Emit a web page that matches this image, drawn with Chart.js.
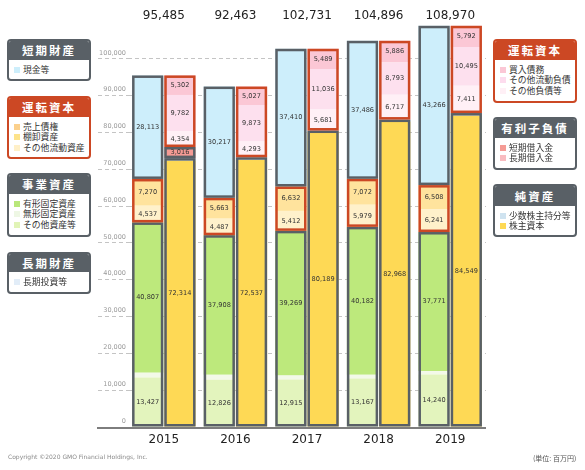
<!DOCTYPE html>
<html lang="ja">
<head>
<meta charset="utf-8">
<script src="https://cdn.jsdelivr.net/npm/chart.js@4.4.1/dist/chart.umd.min.js"></script>
<style>
  html, body { margin: 0; padding: 0; background: #fff; }
  #wrap { position: relative; width: 585px; height: 470px; overflow: hidden; }
  #wrap canvas { position: absolute; left: 0; top: 0; }
  .box { position: absolute; width: 84px; border: 2px solid; border-radius: 4px; box-sizing: border-box; overflow: hidden; background: #fff; }
  .box .head { color: #fff; font: bold 11.5px "Noto Sans CJK JP", sans-serif; letter-spacing: 2px; text-align: center; }
  .box .item { font: 8.8px "Noto Sans CJK JP", sans-serif; color: #333; height: 10.3px; line-height: 10.3px; padding-left: 14px; position: relative; white-space: nowrap; }
  .box .item i { position: absolute; left: 5px; top: 2px; width: 6px; height: 6px; }
  .note { position: absolute; color: #8a8a8a; white-space: nowrap; }
</style>
</head>
<body>
<div id="wrap">
  <canvas id="bsChart"></canvas>
  <div class="note" style="left:8px; top:453px; font:6px 'DejaVu Sans', sans-serif;">Copyright ©2020 GMO Financial Holdings, Inc.</div>
  <div class="note" style="left:533px; top:453px; font:7px 'Noto Sans CJK JP', sans-serif; color:#555;">(単位: 百万円)</div>
</div>
<script>
document.addEventListener('DOMContentLoaded', function () {
    const years = ['2015', '2016', '2017', '2018', '2019'];
    const totals = [95485, 92463, 102731, 104896, 108970];
    const yTicks = [0, 10000, 20000, 30000, 40000, 50000, 60000, 70000, 80000, 90000, 100000];

    // 資産（左の棒）
    const otherAssets = [13427, 12826, 12915, 13167, 14240];
    const intangible = [1331, 1362, 1093, 1010, 944];
    const tangible = [40807, 37908, 39269, 40182, 37771];
    const otherCurrent = [4537, 4487, 5412, 5979, 6241];
    const receivables = [7270, 5663, 6632, 7072, 6508];
    const cash = [28113, 30217, 37410, 37486, 43266];

    // 負債・純資産（右の棒）
    const equity = [72314, 72537, 80189, 82968, 84549];
    const minority = [717, 733, 336, 532, 723];
    const shortLoans = [3016, 0, 0, 0, 0];
    const otherLiab = [4354, 4293, 5681, 6717, 7411];
    const otherCurLiab = [9782, 9873, 11036, 8793, 10495];
    const payables = [5302, 5027, 5489, 5886, 5792];

    const GRAY = '#596066';
    const RED = '#cc4824';

    // legend boxes (html)
    const legendBoxes = [
        { x: 7, y: 39, h: 42, hh: 21, c: GRAY, title: '短期財産', items: [['#cdeefb', '現金等']] },
        { x: 7, y: 96, h: 63, hh: 21, c: RED, title: '運転資本', items: [['#fbd08c', '売上債権'], ['#fde38b', '棚卸資産'], ['#fff0c8', 'その他流動資産']] },
        { x: 7, y: 173, h: 64, hh: 21, c: GRAY, title: '事業資産', items: [['#b9e77a', '有形固定資産'], ['#eef7e4', '無形固定資産'], ['#e1f4b7', 'その他資産等']] },
        { x: 7, y: 252, h: 42, hh: 20, c: GRAY, title: '長期財産', items: [['#e2edf8', '長期投資等']] },
        { x: 493, y: 39, h: 64, hh: 21, c: RED, title: '運転資本', items: [['#fbc7d5', '買入債務'], ['#fddcee', 'その他流動負債'], ['#fff0f6', 'その他負債等']] },
        { x: 493, y: 117, h: 53, hh: 21, c: GRAY, title: '有利子負債', items: [['#f59b95', '短期借入金'], ['#f9bcc0', '長期借入金']] },
        { x: 493, y: 184, h: 53, hh: 22, c: GRAY, title: '純資産', items: [['#cfe3f0', '少数株主持分等'], ['#fed955', '株主資本']] }
    ];
    const wrap = document.getElementById('wrap');
    legendBoxes.forEach(function (b) {
        const box = document.createElement('div');
        box.className = 'box';
        box.style.cssText = 'left:' + b.x + 'px;top:' + b.y + 'px;height:' + b.h + 'px;border-color:' + b.c + ';';
        let html = '<div class="head" style="background:' + b.c + ';height:' + (b.hh - 2) + 'px;line-height:' + (b.hh - 2) + 'px;">' + b.title + '</div>';
        html += '<div style="padding-top:5px;">';
        b.items.forEach(function (it) {
            html += '<div class="item"><i style="background:' + it[0] + '"></i>' + it[1] + '</div>';
        });
        html += '</div>';
        box.innerHTML = html;
        wrap.appendChild(box);
    });

    function fmt(v) {
        return v.toLocaleString('en-US');
    }

    // draws one border round each group of stacked segments
    const groupBorders = {
        id: 'groupBorders',
        afterDatasetsDraw(chart) {
            const ctx = chart.ctx;
            const groups = {};
            chart.data.datasets.forEach(function (ds, di) {
                if (!groups[ds.group]) groups[ds.group] = { color: ds.groupColor, metas: [] };
                groups[ds.group].metas.push(chart.getDatasetMeta(di));
            });
            Object.values(groups).forEach(function (g) {
                for (let i = 0; i < years.length; i++) {
                    let top = Infinity, bottom = -Infinity, x = 0, w = 0;
                    g.metas.forEach(function (m) {
                        const p = m.data[i].getProps(['x', 'y', 'base', 'width'], true);
                        if (Math.abs(p.base - p.y) < 0.1) return;
                        top = Math.min(top, p.y, p.base);
                        bottom = Math.max(bottom, p.y, p.base);
                        x = p.x;
                        w = p.width;
                    });
                    if (!isFinite(top)) continue;
                    ctx.save();
                    ctx.strokeStyle = g.color;
                    ctx.lineWidth = 2.5;
                    ctx.strokeRect(x - w / 2 + 1.25, top + 1.25, w - 2.5, bottom - top - 2.5);
                    ctx.restore();
                }
            });

            // values inside segments
            ctx.save();
            ctx.font = '6.6px "DejaVu Sans", sans-serif';
            ctx.fillStyle = '#333';
            ctx.textAlign = 'center';
            ctx.textBaseline = 'middle';
            chart.data.datasets.forEach(function (ds, di) {
                if (!ds.showValue) return;
                chart.getDatasetMeta(di).data.forEach(function (el, i) {
                    const v = ds.data[i];
                    if (!v) return;
                    const p = el.getProps(['x', 'y', 'base'], true);
                    ctx.fillText(fmt(v), p.x, (p.y + p.base) / 2);
                });
            });
            ctx.restore();
        },
        afterDraw(chart) {
            const ctx = chart.ctx;
            const area = chart.chartArea;
            const xs = chart.scales.x;
            // base line
            ctx.save();
            ctx.strokeStyle = '#7d7d7d';
            ctx.lineWidth = 2;
            ctx.beginPath();
            ctx.moveTo(97, area.bottom + 1);
            ctx.lineTo(area.right, area.bottom + 1);
            ctx.stroke();
            // totals above each year
            ctx.font = '12px "DejaVu Sans", sans-serif';
            ctx.fillStyle = '#222';
            ctx.textAlign = 'center';
            ctx.textBaseline = 'middle';
            totals.forEach(function (t, i) {
                ctx.fillText(fmt(t), xs.getPixelForValue(i), 16);
            });
            ctx.restore();
        }
    };

    function seg(label, data, color, stack, group, groupColor, showValue) {
        return {
            label: label, data: data, backgroundColor: color, stack: stack,
            group: group, groupColor: groupColor, showValue: showValue,
            borderWidth: 0, categoryPercentage: 0.9, barPercentage: 0.97
        };
    }

    const ctx = document.getElementById('bsChart').getContext('2d');
    new Chart(ctx, {
        type: 'bar',
        data: {
            labels: years,
            datasets: [
                seg('その他資産等', otherAssets, '#e3f4bd', 'L', 'biz', GRAY, true),
                seg('無形固定資産', intangible, '#f3f9e8', 'L', 'biz', GRAY, false),
                seg('有形固定資産', tangible, '#bde97c', 'L', 'biz', GRAY, true),
                seg('その他流動資産', otherCurrent, '#fff1cb', 'L', 'wcL', RED, true),
                seg('売上債権', receivables, '#ffe39d', 'L', 'wcL', RED, true),
                seg('現金等', cash, '#cdeefb', 'L', 'cash', GRAY, true),
                seg('株主資本', equity, '#fed955', 'R', 'eq', GRAY, true),
                seg('少数株主持分等', minority, '#cfe3f0', 'R', 'eq', GRAY, false),
                seg('短期借入金', shortLoans, '#f59b95', 'R', 'debt', GRAY, true),
                seg('その他負債等', otherLiab, '#fff0f6', 'R', 'wcR', RED, true),
                seg('その他流動負債', otherCurLiab, '#fde0ee', 'R', 'wcR', RED, true),
                seg('買入債務', payables, '#fbc7d5', 'R', 'wcR', RED, true)
            ]
        },
        options: {
            responsive: true,
            maintainAspectRatio: false,
            animation: false,
            layout: { padding: { top: 22, right: 99, bottom: 0, left: 0 } },
            plugins: { legend: { display: false }, tooltip: { enabled: false } },
            scales: {
                x: {
                    stacked: true,
                    grid: { display: false, drawTicks: false },
                    border: { display: false },
                    ticks: { font: { family: 'DejaVu Sans', size: 12 }, color: '#222', padding: 6 },
                    afterFit: function (s) { s.height = 43; }
                },
                y: {
                    stacked: true,
                    min: 0,
                    max: 110000,
                    afterBuildTicks: function (s) { s.ticks = yTicks.map(function (v) { return { value: v }; }); },
                    afterFit: function (s) { s.width = 128; },
                    ticks: {
                        font: { family: 'DejaVu Sans', size: 6.5 },
                        color: '#9a9a9a',
                        padding: -28,
                        labelOffset: -6,
                        callback: function (v) { return fmt(v); }
                    },
                    grid: {
                        color: '#c4c4c4',
                        tickColor: '#c4c4c4',
                        tickLength: 30,
                        tickBorderDash: [4, 3]
                    },
                    border: { display: false, dash: [4, 3] }
                }
            }
        },
        plugins: [groupBorders]
    });
});
</script>
</body>
</html>
